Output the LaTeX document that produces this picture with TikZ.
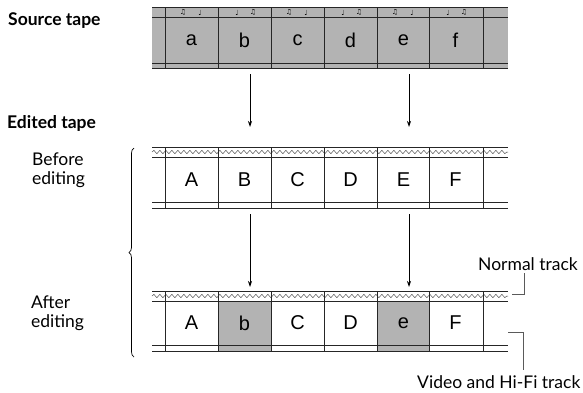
\documentclass[tikz,border=0pt]{standalone}
\usepackage{fontspec}
\setmainfont{Lato}
\newfontfamily\cellfont{Liberation Sans}
\newfontfamily\notefont{DejaVu Sans}
\usetikzlibrary{decorations.pathmorphing,decorations.pathreplacing,arrows.meta}
\definecolor{tapegray}{RGB}{179,179,179}
\definecolor{leadgray}{RGB}{90,90,90}
\begin{document}
\begin{tikzpicture}[x=1pt,y=-1pt,
  tapeline/.style={line width=1pt,draw=black!85},
  wave/.style={draw=black!70,line width=0.5pt,decorate,decoration={snake,segment length=6pt,amplitude=1.6pt}},
  celltext/.style={font=\cellfont\fontsize{20}{20}\selectfont,inner sep=0pt,anchor=center},
  notetext/.style={font=\notefont\fontsize{7}{7}\selectfont,inner sep=0pt,anchor=center},
  label/.style={font=\fontsize{17.5}{21}\selectfont,inner sep=0pt,anchor=base west},
  title/.style={font=\bfseries\fontsize{17.5}{21}\selectfont,inner sep=0pt,anchor=base west},
  flow/.style={line width=0.8pt,-{Stealth[length=6pt,width=4pt]}},
  leader/.style={draw=leadgray,line width=0.9pt}]
\useasboundingbox (0,0) rectangle (583,392);

% ---------- Source tape ----------
\fill[tapegray] (152,7) rectangle (508,69);
\foreach \y in {7,17,63,68} \draw[tapeline] (152,\y) -- (508,\y);
\foreach \x in {165,218,271,324,377,429,483} \draw[tapeline] (\x,7) -- (\x,68);
\foreach \L/\t [count=\i] in {165/a,218/b,271/c,324/d,377/e,429/f}{
  \node[celltext] (s\t) at (\L+26.5,40) {\t};
  \ifodd\i
    \node[notetext] (sn\t1) at (\L+18,12) {♫};
    \node[notetext] (sn\t2) at (\L+35,12.5) {♩};
  \else
    \node[notetext] (sn\t1) at (\L+19,12.5) {♩};
    \node[notetext] (sn\t2) at (\L+35,12) {♫};
  \fi
}

% ---------- Edited tape: before ----------
\foreach \y in {147,157,202,208} \draw[tapeline] (152,\y) -- (508,\y);
\draw[wave] (152,152) -- (508,152);
\foreach \x in {165,218,271,324,377,429,483} \draw[tapeline] (\x,147) -- (\x,208);
\foreach \L/\t in {165/A,218/B,271/C,324/D,377/E,429/F}
  \node[celltext] (b\t) at (\L+26.5,180) {\t};

% ---------- Edited tape: after ----------
\fill[tapegray] (218,301) rectangle (271,351);
\fill[tapegray] (377,301) rectangle (429,351);
\foreach \y in {291,301,345,351} \draw[tapeline] (152,\y) -- (508,\y);
\draw[wave] (152,296) -- (508,296);
\foreach \x in {165,218,271,324,377,429,483} \draw[tapeline] (\x,291) -- (\x,351);
\foreach \L/\t/\n in {165/A/1,218/b/2,271/C/3,324/D/4,377/e/5,429/F/6}
  \node[celltext] (a\n) at (\L+26.5,323) {\t};

% ---------- arrows ----------
\coordinate (s1) at (250,74);  \coordinate (s1e) at (250,127);
\coordinate (s2) at (409,74);  \coordinate (s2e) at (409,127);
\coordinate (b1) at (250,214); \coordinate (b1e) at (250,287);
\coordinate (b2) at (409,214); \coordinate (b2e) at (409,287);
\draw[flow] (s1) -- (s1e);
\draw[flow] (s2) -- (s2e);
\draw[flow] (b1) -- (b1e);
\draw[flow] (b2) -- (b2e);

% ---------- brace ----------
\coordinate (brt) at (134,148);
\coordinate (brb) at (134,357);
\draw[line width=0.7pt,decorate,decoration={brace,mirror,amplitude=5pt}] (brt) -- (brb);

% ---------- labels ----------
\node[title] (src) at (8,25) {Source tape};
\node[title] (edt) at (7,128) {Edited tape};
\node[label] (bef1) at (32,165) {Before};
\node[label] (bef2) at (32,184) {editing};
\node[label] (aft1) at (31,308) {After};
\node[label] (aft2) at (31,327) {editing};
\node[label] (nt) at (478,270) {Normal track};
\node[label] (vt) at (417,388) {Video and Hi-Fi track};

% ---------- leaders ----------
\coordinate (ntA) at (512,294); \coordinate (ntB) at (524,273);
\coordinate (vtA) at (508,332); \coordinate (vtB) at (523,370);
\draw[leader] (ntA) -| (ntB);
\draw[leader] (vtA) -| (vtB);
\end{tikzpicture}
\end{document}
